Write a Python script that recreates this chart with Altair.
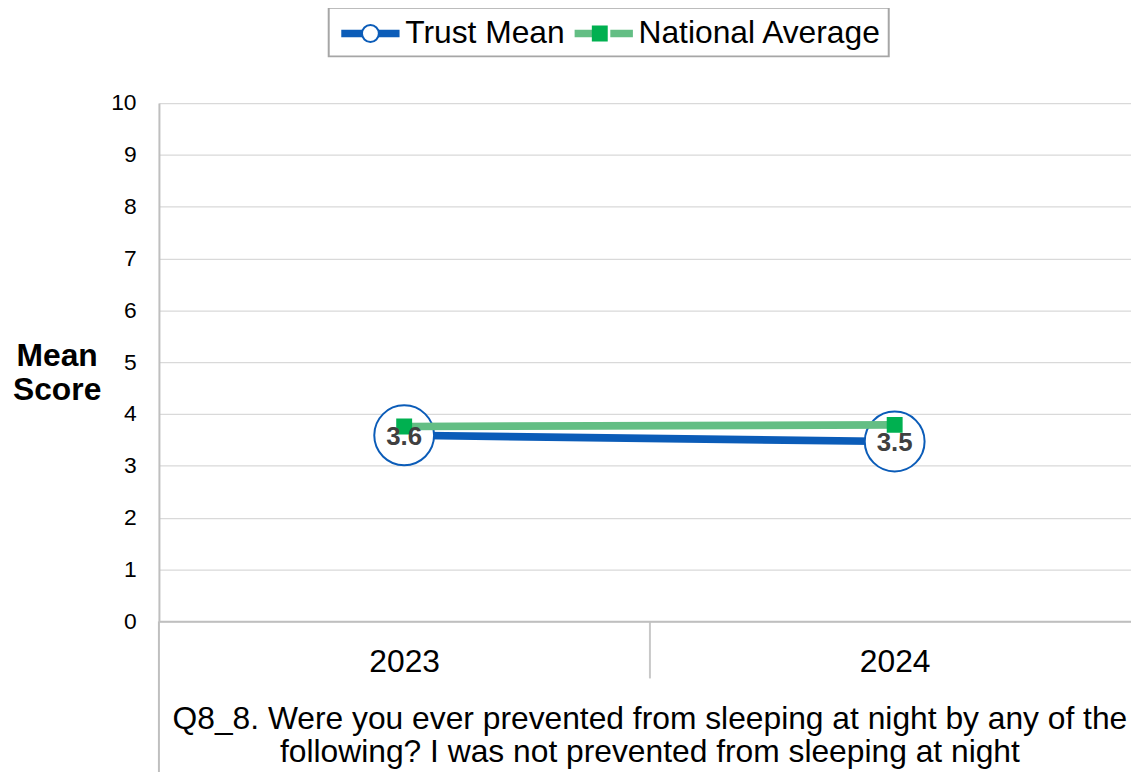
import altair as alt
import pandas as pd

# ---- data ----
years = [2023, 2024]
trust_mean = [3.59, 3.47]
national_avg = [3.76, 3.79]
series_names = ["Trust Mean", "National Average"]
y_ticks = [0, 1, 2, 3, 4, 5, 6, 7, 8, 9, 10]
x_title = ["Q8_8. Were you ever prevented from sleeping at night by any of the",
           "following? I was not prevented from sleeping at night"]
y_title = ["Mean", "Score"]

# ---- style ----
FONT = "Liberation Sans"
BLUE = "#0B5CB8"
GREEN_LINE = "#63BE84"
GREEN_MARK = "#00B050"
AXIS_GREY = "#BFBFBF"
GRID_GREY = "#D9D9D9"
W, H = 979, 522
BIG = 32
HALF_STEP = 247

BAR_PATH = "M-2,0L-0.45,0M0.45,0L2,0"
r = 0.472
RING_PATH = f"M{r},0A{r},{r} 0 1,1 -{r},0A{r},{r} 0 1,1 {r},0Z"
q = 0.389
SQUARE_PATH = f"M-{q},-{q}L{q},-{q}L{q},{q}L-{q},{q}Z"

trust_df = pd.DataFrame({"year": years, "value": trust_mean,
                         "series": series_names[0], "marker": series_names[0]})
nat_df = pd.DataFrame({"year": years, "value": national_avg,
                       "series": series_names[1], "marker": series_names[1]})

x_enc = alt.X(
    "year:Q",
    scale=alt.Scale(domain=[2022.5, 2024.4818], nice=False, zero=False),
    axis=alt.Axis(
        values=years, format="d",
        title=x_title, labelAngle=0, labelFontSize=BIG, labelColor="black", labelFont=FONT,
        labelFlush=False, labelOverlap=False,
        ticks=True, tickSize=57, tickColor="#C8C8C8", tickWidth=2,
        tickOffset=HALF_STEP, labelOffset=-HALF_STEP, labelPadding=-31,
        domainColor=AXIS_GREY, domainWidth=2, grid=False,
        titleFontSize=BIG, titleFontWeight="normal", titleColor="black", titleFont=FONT,
        titleX=494, titleY=108, titleAlign="center", titleBaseline="alphabetic",
        titleLineHeight=33,
    ),
)
y_enc = alt.Y(
    "value:Q",
    scale=alt.Scale(domain=[0, 10]),
    axis=alt.Axis(
        values=y_ticks, title=y_title, titleAngle=0, titleFontSize=BIG, titleFontWeight="bold",
        titleColor="black", titleFont=FONT, titleX=-103, titleY=264, titleAlign="center",
        titleBaseline="alphabetic", titleLineHeight=35,
        labelFontSize=23, labelColor="black", labelFont=FONT, labelPadding=23, ticks=False,
        domainColor=AXIS_GREY, domainWidth=2, gridColor=GRID_GREY, gridWidth=1.3,
    ),
)

legend_common = dict(
    title=None, orient="none", legendX=171, legendY=-96, direction="horizontal",
    labelFontSize=BIG, labelFont=FONT, labelColor="black", labelLimit=0,
    columnPadding=-6, padding=7, symbolOffset=16, labelOffset=16,
)
legend_lines = alt.Legend(symbolType=BAR_PATH, symbolSize=861, symbolStrokeWidth=7.7,
                          strokeColor="#A6A6A6", **legend_common)
legend_marks = alt.Legend(symbolSize=1296, symbolStrokeWidth=2, labelOpacity=0,
                          symbolOpacity=1, **legend_common)

color_enc = alt.Color("series:N", sort=series_names,
                      scale=alt.Scale(range=[BLUE, GREEN_LINE]), legend=legend_lines)
shape_enc = alt.Shape("marker:N",
                      scale=alt.Scale(domain=series_names, range=[RING_PATH, SQUARE_PATH]),
                      legend=legend_marks)
fill_enc = alt.Fill("marker:N",
                    scale=alt.Scale(domain=series_names, range=["white", GREEN_MARK]),
                    legend=legend_marks)
stroke_enc = alt.Stroke("marker:N",
                        scale=alt.Scale(domain=series_names, range=[BLUE, GREEN_MARK]),
                        legend=legend_marks)

trust_line = alt.Chart(trust_df).mark_line(strokeWidth=7.7).encode(x=x_enc, y=y_enc, color=color_enc)
trust_pts = alt.Chart(trust_df).mark_point(filled=True, size=16300, strokeWidth=2, opacity=1).encode(
    x=x_enc, y=y_enc, shape=shape_enc, fill=fill_enc, stroke=stroke_enc)
nat_line = alt.Chart(nat_df).mark_line(strokeWidth=7.7).encode(x=x_enc, y=y_enc, color=color_enc)
nat_pts = alt.Chart(nat_df).mark_point(filled=True, size=1296, strokeWidth=2, opacity=1).encode(
    x=x_enc, y=y_enc, shape=shape_enc, fill=fill_enc, stroke=stroke_enc)
labels = alt.Chart(trust_df).mark_text(fontSize=26, fontWeight="bold", color="#404040", font=FONT,
                                       baseline="middle", dy=1.5).encode(
    x=x_enc, y=y_enc, text=alt.Text("value:Q", format=".1f"))
left_rule = alt.Chart(trust_df.head(1)).mark_rule(color=AXIS_GREY, strokeWidth=2).encode(
    x=alt.value(0), y=alt.value(H), y2=alt.value(H + 160))

chart = alt.layer(trust_line, trust_pts, nat_line, nat_pts, labels, left_rule).properties(
    width=W, height=H,
    padding={"left": 152, "top": 93, "right": 0, "bottom": 149},
    autosize=alt.AutoSizeParams(type="none"),
).configure(font=FONT).configure_view(stroke=None).configure_legend(strokeWidth=2)

chart.save("out.html", embed_options={"renderer": "svg", "actions": False})
